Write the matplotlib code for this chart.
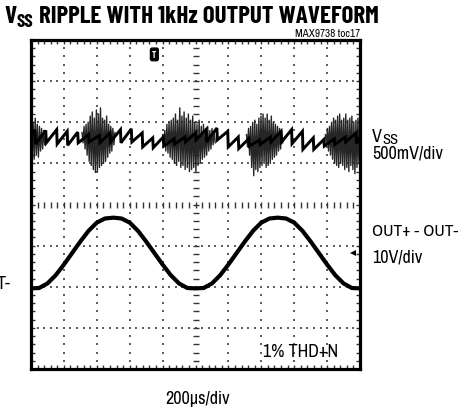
import matplotlib
matplotlib.use("Agg")
import matplotlib.pyplot as plt
import numpy as np

FONT = ['Archivo Narrow', 'Liberation Sans', 'DejaVu Sans']
TITLE_FONT = ['Barlow Condensed', 'Liberation Sans', 'DejaVu Sans']

# OUT+ - OUT- trace, one sample every 0.25 div (div units, centre line = 0)
sine_t = [0.0, 0.25, 0.5, 0.75, 1.0, 1.25, 1.5, 1.75, 2.0, 2.25, 2.5,
          2.75, 3.0, 3.25, 3.5, 3.75, 4.0, 4.25, 4.5, 4.75, 5.0,
          5.25, 5.5, 5.75, 6.0, 6.25, 6.5, 6.75, 7.0, 7.25, 7.5,
          7.75, 8.0, 8.25, 8.5, 8.75, 9.0, 9.25, 9.5, 9.75, 10.0]
sine_v = [-2.04, -2.03, -1.92, -1.72, -1.46, -1.18, -0.90, -0.64, -0.44, -0.34, -0.32,
          -0.34, -0.44, -0.64, -0.90, -1.18, -1.46, -1.72, -1.92, -2.03, -2.04,
          -2.03, -1.92, -1.72, -1.46, -1.18, -0.90, -0.64, -0.44, -0.34, -0.32,
          -0.34, -0.44, -0.64, -0.90, -1.18, -1.46, -1.72, -1.92, -2.03, -2.04]

# VSS ripple: sawtooth teeth (time of drop, value before drop, value after drop)
tooth_t = [0.12, 0.45, 0.78, 1.1, 1.42, 1.75, 2.08, 2.4, 2.72, 3.05, 3.38,
           3.7, 4.02, 4.35, 4.68, 5.0, 5.32, 5.65, 5.98, 6.3, 6.62,
           6.95, 7.28, 7.6, 7.92, 8.25, 8.58, 8.9, 9.22, 9.55, 9.88]
tooth_hi = [1.82, 1.8, 1.82, 1.78, 1.76, 1.7, 1.68, 1.74, 1.82, 1.84, 1.74,
            1.62, 1.64, 1.6, 1.64, 1.74, 1.82, 1.86, 1.78, 1.64, 1.6,
            1.57, 1.64, 1.78, 1.82, 1.78, 1.62, 1.58, 1.6, 1.64, 1.74]
tooth_lo = [1.47, 1.5, 1.47, 1.44, 1.5, 1.52, 1.5, 1.52, 1.5, 1.52, 1.4,
            1.38, 1.42, 1.47, 1.52, 1.57, 1.52, 1.57, 1.4, 1.36, 1.42,
            1.46, 1.52, 1.52, 1.48, 1.34, 1.34, 1.42, 1.46, 1.52, 1.48]

# VSS switching bursts: start / end time and the swing of the trace inside
burst_t0 = [0.0, 1.55, 4.0, 6.55, 8.95]
burst_t1 = [0.45, 2.55, 5.6, 7.65, 10.0]
burst_v = [
    [2.05, 1.05, 2.0, 1.1, 2.1, 1.2, 1.95, 1.15, 1.9, 1.3, 1.85, 1.35, 1.8, 1.45, 1.7],
    [1.75, 1.5, 1.9, 1.35, 1.95, 1.2, 2.0, 1.05, 2.15, 0.95, 2.25, 0.85, 2.1, 0.78,
     2.3, 0.8, 2.2, 0.9, 2.35, 0.95, 2.1, 1.0, 2.05, 1.05, 2.15, 1.15, 1.95, 1.25,
     1.9, 1.3, 1.85, 1.45, 1.75],
    [1.7, 1.45, 1.8, 1.3, 1.95, 1.25, 2.0, 1.15, 2.05, 1.1, 2.1, 1.0, 2.2, 0.95,
     2.05, 1.05, 2.35, 0.9, 2.15, 0.95, 2.25, 0.85, 2.1, 0.9, 2.2, 0.8, 2.05, 0.85,
     2.15, 0.9, 2.0, 0.8, 1.95, 0.95, 2.05, 1.0, 1.9, 1.1, 1.95, 1.15, 1.85, 1.2,
     1.9, 1.3, 1.8, 1.35, 1.85, 1.45, 1.75, 1.5],
    [1.7, 1.4, 1.85, 1.2, 1.9, 0.9, 2.0, 0.7, 2.05, 0.85, 1.95, 0.8, 2.1, 0.9,
     2.15, 0.95, 2.2, 1.0, 2.1, 0.9, 2.2, 0.95, 2.05, 1.0, 2.15, 1.1, 2.0, 1.15,
     1.95, 1.2, 1.9, 1.3, 1.85, 1.35, 1.8, 1.5],
    [1.7, 1.45, 1.85, 1.3, 1.9, 1.2, 2.0, 1.1, 2.1, 1.0, 2.05, 0.95, 2.15, 0.9,
     2.2, 1.0, 2.05, 0.95, 2.1, 0.85, 2.2, 0.9, 2.05, 0.8, 2.1, 0.95, 2.15, 0.85,
     2.0, 0.75, 2.05, 0.9, 2.1, 1.0, 1.95],
]


def px(x, y):
    # figure pixel position -> figure fraction
    return x / 459, 1 - y / 410


def draw_grid(ax):
    fine = np.arange(0, 10.01, 0.2)
    fine_y = np.arange(-4, 4.01, 0.2)
    for k in range(1, 10):
        if k == 5:
            continue
        ax.plot([k] * len(fine_y), fine_y, ls='none', marker='s', ms=1.5,
                mew=0, color='#5e5e5e')
    for j in range(-3, 4):
        if j == 0:
            continue
        ax.plot(fine, [j] * len(fine), ls='none', marker='s', ms=1.5,
                mew=0, color='#5e5e5e')
    # centre cross with small ticks
    ax.plot(fine, [0] * len(fine), ls='none', marker='|', ms=5, mew=1.0, color='#333333')
    ax.plot([5] * len(fine_y), fine_y, ls='none', marker='_', ms=5, mew=1.0, color='#333333')


def vss_trace():
    xs, ys = [0.0], [1.62]
    for t, hi, lo in zip(tooth_t, tooth_hi, tooth_lo):
        xs += [t, t + 0.015]
        ys += [hi, lo]
    xs.append(10.0)
    ys.append(1.64)
    return xs, ys


def with_sub(fig, x, y, main_txt, sub_txt, rest, size, sub_size, drop, **kw):
    # text, subscript, and an optional tail on the same baseline
    t = fig.text(*px(x, y), main_txt, fontsize=size, va='baseline', **kw)
    s = plt.annotate(sub_txt, xy=(1, 0), xycoords=t, xytext=(0.4, -drop),
                     textcoords='offset points', fontsize=sub_size,
                     va='bottom', **kw)
    if rest:
        plt.annotate(rest, xy=(1, 0), xycoords=(s, t), xytext=(0, 0),
                     textcoords='offset points', fontsize=size,
                     va='bottom', **kw)


def main():
    fig = plt.figure(figsize=(4.59, 4.10), dpi=100)
    fig.patch.set_facecolor('white')
    ax = fig.add_axes([31 / 459, 1 - 370 / 410, 329 / 459, 329 / 410])
    ax.set_xlim(0, 10)
    ax.set_ylim(-4, 4)
    for s in ax.spines.values():
        s.set_linewidth(2.3)
        s.set_color('black')
    ax.set_xticks(np.arange(0, 10.01, 1))
    ax.set_yticks(np.arange(-4, 4.01, 1))
    ax.set_xticks(np.arange(0, 10.01, 0.2), minor=True)
    ax.set_yticks(np.arange(-4, 4.01, 0.2), minor=True)
    ax.tick_params(which='both', direction='in', length=3, width=1.0,
                   color='#333333', top=True, right=True,
                   labelbottom=False, labelleft=False)

    draw_grid(ax)

    for t0, t1, vals in zip(burst_t0, burst_t1, burst_v):
        ax.plot(np.linspace(t0, t1, len(vals)), vals, color='#262626', lw=1.0)
    xs, ys = vss_trace()
    ax.plot(xs, ys, color='black', lw=2.1, solid_joinstyle='miter')

    ax.plot(sine_t, sine_v, color='black', lw=3.0, solid_capstyle='butt')

    # trigger and channel markers
    ax.text(3.75, 3.65, 'T', ha='center', va='center', color='white',
            fontsize=6.5, fontweight='bold', family=TITLE_FONT,
            bbox=dict(boxstyle='round,pad=0.2', fc='black', ec='black'))
    ax.plot([9.78], [-1.17], marker='<', ms=4, color='black', mew=0)

    fig.text(*px(263, 357), '1% THD+N', fontsize=13, family=FONT, va='baseline')

    with_sub(fig, 4, 23, 'V', 'SS', ' RIPPLE WITH 1kHz OUTPUT WAVEFORM',
             18, 13.5, 2.0, fontweight='bold', family=TITLE_FONT)

    fig.text(*px(360, 37), 'MAX9738 toc17', fontsize=8, family=FONT,
             ha='right', va='baseline')

    with_sub(fig, 372, 142, 'V', 'SS', '', 13, 10.5, 1.5, family=FONT)
    fig.text(*px(372, 159), '500mV/div', fontsize=13, family=FONT, va='baseline')
    fig.text(*px(372, 236), 'OUT+ - OUT-', fontsize=12.5, family=FONT, va='baseline')
    fig.text(*px(372, 262), '10V/div', fontsize=13, family=FONT, va='baseline')
    fig.text(*px(-3, 289), 'T-', fontsize=13, family=FONT, va='baseline')
    fig.text(*px(197, 404), '200\u00b5s/div', fontsize=13, family=FONT,
             ha='center', va='baseline')

    fig.savefig('out.png', dpi=100)


if __name__ == "__main__":
    main()
